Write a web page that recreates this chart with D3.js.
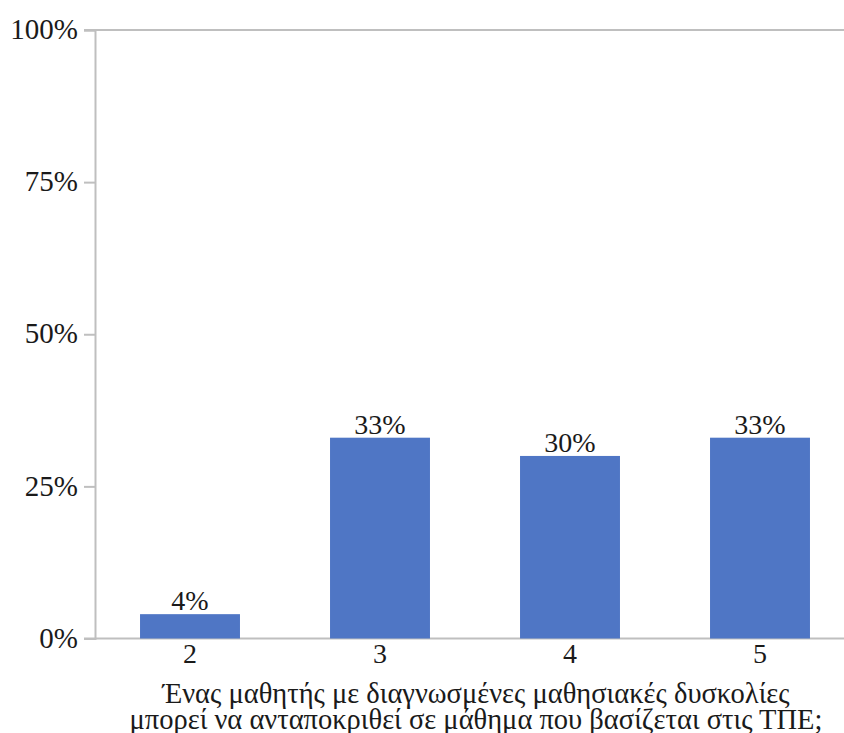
<!DOCTYPE html>
<html><head><meta charset="utf-8">
<script src="https://cdn.jsdelivr.net/npm/d3@7"></script>
<style>body{margin:0;background:#fff}svg{display:block}</style>
</head><body>
<svg id="c" width="844" height="733"></svg>
<script>
const categories = ["2", "3", "4", "5"];
const values = [4, 33, 30, 33];
const yTicks = [0, 25, 50, 75, 100];
const titleLines = ["Ένας μαθητής με διαγνωσμένες μαθησιακές δυσκολίες", "μπορεί να ανταποκριθεί σε μάθημα που βασίζεται στις ΤΠΕ;"];

const svg = d3.select("#c");
const FONT = "Liberation Serif";
const mLeft = 95, mRight = 855, mTop = 30, mBottom = 638.5;
const x = d3.scaleBand().domain(categories).range([mLeft, mRight]).paddingInner(0.474).paddingOuter(0.237);
const y = d3.scaleLinear().domain([0, 100]).range([mBottom, mTop]);
const grey = "#bfbfbf";
function styleText(sel, size) {
  return sel.attr("font-family", FONT).attr("font-size", size).attr("fill", "#1a1a1a");
}

// y axis
const yAxis = svg.append("g").attr("transform", `translate(${mLeft},0)`)
  .call(d3.axisLeft(y).tickValues(yTicks).tickSize(11).tickPadding(6).tickFormat(d => d + "%"));
yAxis.attr("font-family", FONT);
yAxis.select(".domain").attr("stroke", grey).attr("stroke-width", 2);
yAxis.selectAll(".tick line").attr("stroke", grey).attr("stroke-width", 2);
styleText(yAxis.selectAll(".tick text"), 29).attr("dy", "0.3em");

// top line at 100% and baseline
[100, 0].forEach(v => {
  svg.append("line").attr("x1", 84).attr("x2", 844).attr("y1", y(v)).attr("y2", y(v))
    .attr("stroke", grey).attr("stroke-width", 2);
});

// bars
svg.append("g").selectAll("rect").data(values).join("rect")
  .attr("x", (d, i) => x(categories[i]))
  .attr("width", x.bandwidth())
  .attr("y", d => y(d))
  .attr("height", d => y(0) - y(d))
  .attr("fill", "#4f76c5");

// value labels
styleText(svg.append("g").selectAll("text").data(values).join("text")
  .attr("x", (d, i) => x(categories[i]) + x.bandwidth() / 2)
  .attr("y", d => y(d) - 4)
  .attr("text-anchor", "middle"), 28)
  .text(d => d + "%");

// x labels
styleText(svg.append("g").selectAll("text").data(categories).join("text")
  .attr("x", d => x(d) + x.bandwidth() / 2)
  .attr("y", 663)
  .attr("text-anchor", "middle"), 28)
  .text(d => d);

// axis title
styleText(svg.append("g").selectAll("text").data(titleLines).join("text")
  .attr("x", 476)
  .attr("y", (d, i) => 703 + i * 26)
  .attr("text-anchor", "middle"), 28.5)
  .text(d => d);
</script>
</body></html>
